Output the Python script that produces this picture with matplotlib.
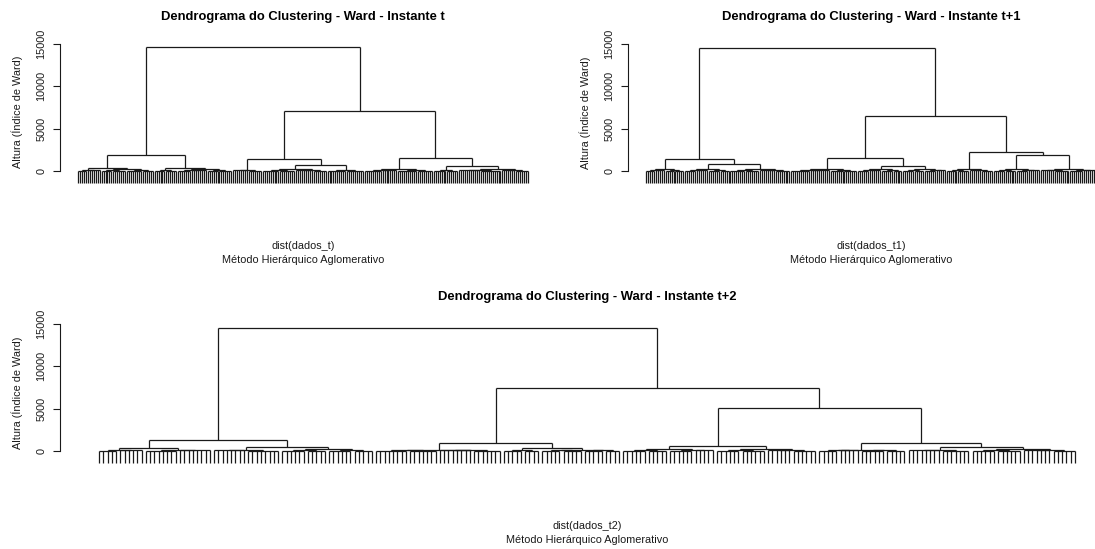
import matplotlib
matplotlib.use("Agg")
import matplotlib.pyplot as plt
from matplotlib.collections import LineCollection

plt.rcParams['font.family'] = ['Liberation Sans', 'DejaVu Sans']

W, H, DPI = 1095, 549, 100

# Ward trees: (merge height, [children]); a child written (height, n) with an
# integer n is a group of n observations joined at that height.
tree_t = (14600, [
    (1900, [
        (400, [
            (150, [(40, 5), (70, 7)]),
            (210, [(90, [(30, 6), (50, 7)]), (120, [(45, 8), (35, 6)])]),
        ]),
        (400, [
            (140, [(55, 6), (35, 6)]),
            (230, [(100, [(40, 7), (60, 8)]), (80, [(30, 6), (50, 7)])]),
        ]),
    ]),
    (7080, [
        (1390, [
            (160, [(60, 8), (45, 7)]),
            (710, [
                (240, [(110, [(40, 9), (55, 8)]), (150, [(60, 9), (35, 7)])]),
                (130, [(50, 10), (40, 9)]),
            ]),
        ]),
        (1500, [
            (200, [(120, [(45, 9), (60, 8)]), (90, [(40, 10), (30, 8)])]),
            (590, [
                (120, [(50, 7), (35, 6)]),
                (240, [(130, [(70, 11), (50, 11)]), (150, [(60, 7), (40, 7)])]),
            ]),
        ]),
    ]),
])

tree_t1 = (14580, [
    (1380, [
        (220, [(90, [(40, 5), (60, 5)]), (110, [(50, 5), (30, 5)])]),
        (790, [
            (260, [(120, [(40, 6), (60, 6)]), (90, [(50, 6), (35, 5)])]),
            (240, [(120, [(50, 8), (40, 7)]), (150, [(60, 8), (45, 8)])]),
        ]),
    ]),
    (6480, [
        (1580, [
            (240, [(130, [(50, 10), (70, 10)]), (110, [(40, 7), (55, 7)])]),
            (590, [
                (200, [(90, [(40, 6), (60, 6)]), (70, [(35, 6), (45, 5)])]),
                (210, [(100, [(50, 6), (40, 5)]), (80, [(30, 6), (60, 5)])]),
            ]),
        ]),
        (2290, [
            (230, [(110, [(40, 6), (55, 6)]), (130, [(60, 6), (45, 6)])]),
            (1900, [
                (250, [(120, [(50, 6), (40, 6)]), (100, [(45, 6), (60, 6)])]),
                (280, [(140, [(60, 7), (40, 8)]), (160, [(50, 7), (70, 7)])]),
            ]),
        ]),
    ]),
])

tree_t2 = (14560, [
    (1260, [
        (310, [(110, [(40, 5), (60, 6)]), (150, [(50, 8), (70, 8)])]),
        (510, [
            (140, [(60, 8), (45, 8)]),
            (200, [(90, [(40, 6), (55, 5)]), (110, [(50, 6), (35, 5)])]),
        ]),
    ]),
    (7420, [
        (940, [
            (160, [(80, [(40, 8), (55, 7)]), (120, [(60, 8), (45, 7)])]),
            (310, [
                (100, [(40, 5), (50, 4)]),
                (150, [(70, [(40, 5), (30, 5)]), (90, [(50, 5), (40, 4)])]),
            ]),
        ]),
        (5030, [
            (630, [
                (180, [(90, [(40, 6), (55, 5)]), (110, [(45, 6), (60, 5)])]),
                (200, [(100, [(50, 6), (40, 6)]), (120, [(60, 6), (35, 6)])]),
            ]),
            (900, [
                (170, [(80, [(40, 5), (60, 5)]), (110, [(50, 6), (35, 5)])]),
                (430, [
                    (140, [(60, 8), (45, 7)]),
                    (250, [(110, [(40, 6), (55, 6)]), (130, [(60, 7), (45, 6)])]),
                ]),
            ]),
        ]),
    ]),
])

titles = ["Dendrograma do Clustering - Ward - Instante t",
          "Dendrograma do Clustering - Ward - Instante t+1",
          "Dendrograma do Clustering - Ward - Instante t+2"]
xlabels = ["dist(dados_t)", "dist(dados_t1)", "dist(dados_t2)"]
sub_label = "Método Hierárquico Aglomerativo"
y_label = "Altura (Índice de Ward)"
y_ticks = [0, 5000, 10000, 15000]
HANG = 0.1


def build(node, counter, hang, segs, bottoms):
    """Lay out a tree left to right; returns the x of the node."""
    h, kids = node
    if isinstance(kids, int):
        xs = []
        for _ in range(kids):
            x = counter[0]
            counter[0] += 1
            xs.append(x)
            segs.append([(x, h), (x, h - hang)])
            bottoms.append(h - hang)
    else:
        xs = []
        for k in kids:
            cx = build(k, counter, hang, segs, bottoms)
            segs.append([(cx, k[0]), (cx, h)])
            xs.append(cx)
    segs.append([(xs[0], h), (xs[-1], h)])
    return (xs[0] + xs[-1]) / 2


def heights(node):
    h, kids = node
    out = [h]
    if not isinstance(kids, int):
        for k in kids:
            out += heights(k)
    return out


fig = plt.figure(figsize=(W / DPI, H / DPI), dpi=DPI)
fig.patch.set_facecolor("white")

PX_PER_UNIT = 127 / 15000
BASE = 7.8
INK = "#1a1a1a"
panels = [
    (tree_t, 60, 546, 171),
    (tree_t1, 628, 1114, 171),
    (tree_t2, 60, 1114, 451),
]

for i, (tree, left, right, zero_px) in enumerate(panels):
    hs = heights(tree)
    hang = HANG * (max(hs) - min(hs))
    segs, bottoms = [], []
    counter = [1]
    build(tree, counter, hang, segs, bottoms)
    n = counter[0] - 1

    lo, hi = min(bottoms), max(hs)
    pad = 0.04 * (hi - lo)
    top_px = zero_px - (hi + pad) * PX_PER_UNIT
    bot_px = zero_px + (pad - lo) * PX_PER_UNIT
    ax = fig.add_axes([left / W, 1 - bot_px / H,
                       (right - left) / W, (bot_px - top_px) / H])
    ax.set_ylim(lo - pad, hi + pad)
    xpad = 0.04 * (n - 1)
    ax.set_xlim(1 - xpad, n + xpad)

    ax.add_collection(LineCollection(segs, colors=INK, linewidths=0.9))

    for s in ("top", "right", "bottom"):
        ax.spines[s].set_visible(False)
    ax.spines["left"].set_bounds(0, 15000)
    ax.spines["left"].set_linewidth(0.8)
    ax.spines["left"].set_color(INK)
    ax.set_xticks([])
    ax.set_yticks(y_ticks)
    ax.set_yticklabels([str(v) for v in y_ticks], rotation=90, va="center")
    ax.tick_params(axis="y", length=4.7, width=0.8, pad=5.2,
                   labelsize=BASE, colors=INK)
    ax.set_facecolor("none")

    ax.set_title(titles[i], fontsize=9.35, fontweight="bold", pad=16.0)
    ax.set_ylabel(y_label, fontsize=BASE, va="center", color=INK)
    ax.yaxis.set_label_coords(-43 / (right - left), 0.52)
    ax.set_xlabel(xlabels[i] + "\n" + sub_label, fontsize=BASE, color=INK,
                  linespacing=1.45, labelpad=38)

fig.savefig("out.png", dpi=DPI, facecolor="white")
